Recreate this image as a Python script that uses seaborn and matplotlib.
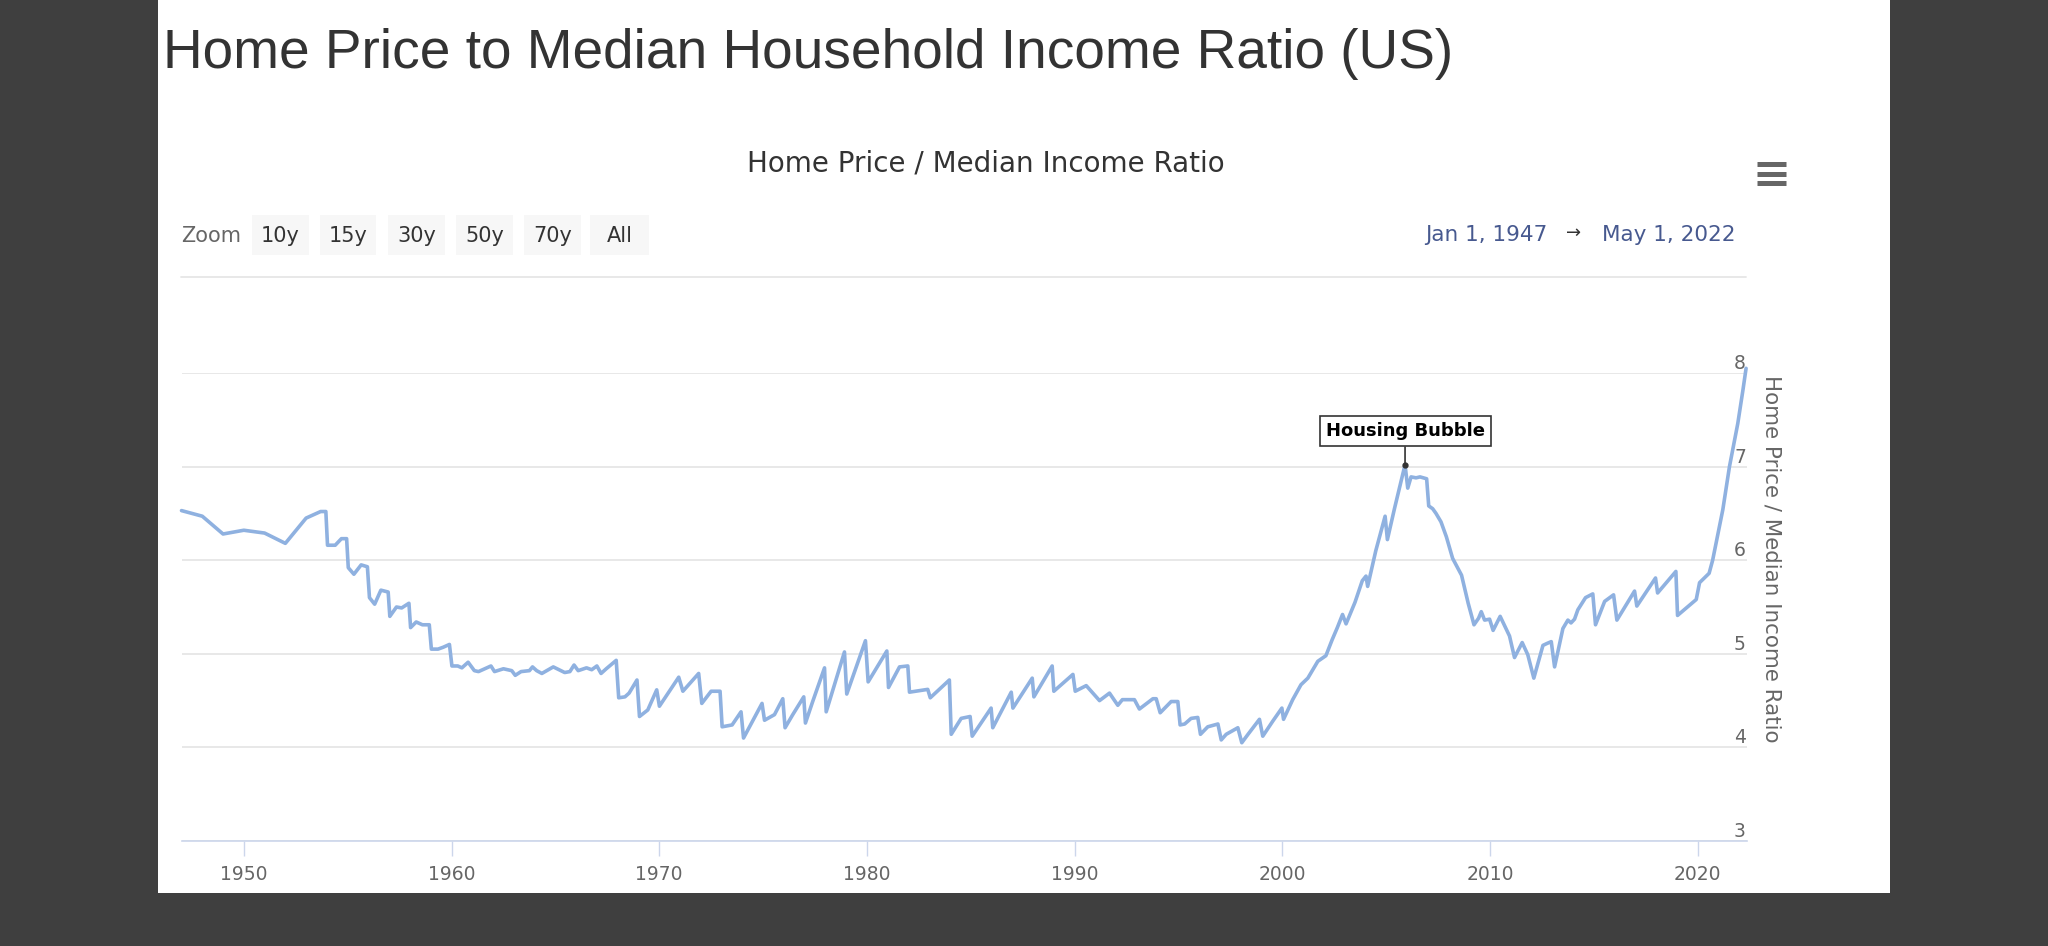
import matplotlib
matplotlib.use('Agg')
import matplotlib.pyplot as plt
from matplotlib.patches import Rectangle
import numpy as np
import pandas as pd
import seaborn as sns

# values
years = [1947.0, 1948.0, 1949.0, 1950.0, 1951.0, 1952.0, 1953.0, 1953.7, 1953.95, 1954.03,
         1954.4, 1954.7, 1954.95, 1955.03, 1955.3, 1955.65, 1955.95, 1956.05, 1956.3, 1956.6,
         1956.95, 1957.03, 1957.35, 1957.6, 1957.95, 1958.03, 1958.3, 1958.6, 1958.93, 1959.03,
         1959.35, 1959.6, 1959.9, 1960.02, 1960.3, 1960.5, 1960.8, 1961.1, 1961.3, 1961.6,
         1961.9, 1962.07, 1962.5, 1962.9, 1963.07, 1963.35, 1963.75, 1963.9, 1964.1, 1964.35,
         1964.9, 1965.45, 1965.7, 1965.9, 1966.1, 1966.5, 1966.75, 1967.0, 1967.2, 1967.45,
         1967.93, 1968.05, 1968.35, 1968.55, 1968.93, 1969.05, 1969.45, 1969.88, 1970.01, 1970.94,
         1971.14, 1971.9, 1972.05, 1972.5, 1972.93, 1973.03, 1973.51, 1973.94, 1974.06, 1974.95,
         1975.07, 1975.55, 1975.95, 1976.06, 1976.43, 1976.96, 1977.04, 1977.39, 1977.96, 1978.04,
         1978.92, 1979.03, 1979.93, 1980.06, 1980.96, 1981.04, 1981.57, 1981.97, 1982.05, 1982.93,
         1983.05, 1983.97, 1984.06, 1984.54, 1984.97, 1985.07, 1985.98, 1986.06, 1986.95, 1987.03,
         1987.96, 1988.04, 1988.92, 1989.0, 1989.92, 1990.03, 1990.56, 1991.2, 1991.68, 1992.08,
         1992.3, 1992.88, 1993.12, 1993.77, 1993.93, 1994.12, 1994.65, 1994.97, 1995.08, 1995.3,
         1995.61, 1995.93, 1996.06, 1996.41, 1996.9, 1997.06, 1997.3, 1997.86, 1998.05, 1998.35,
         1998.9, 1999.06, 1999.54, 1999.98, 2000.06, 2000.5, 2000.9, 2001.23, 2001.71, 2002.1,
         2002.4, 2002.65, 2002.9, 2003.07, 2003.5, 2003.85, 2004.03, 2004.11, 2004.5, 2004.95,
         2005.06, 2005.4, 2005.91, 2006.04, 2006.2, 2006.44, 2006.63, 2006.95, 2007.05, 2007.24,
         2007.4, 2007.64, 2007.9, 2008.2, 2008.63, 2008.95, 2009.23, 2009.45, 2009.58, 2009.74,
         2009.98, 2010.15, 2010.49, 2010.94, 2011.18, 2011.55, 2011.82, 2012.11, 2012.55, 2012.74,
         2012.95, 2013.11, 2013.51, 2013.75, 2013.9, 2014.07, 2014.23, 2014.6, 2014.95, 2015.08,
         2015.52, 2015.95, 2016.11, 2016.96, 2017.07, 2017.97, 2018.07, 2018.95, 2019.03, 2019.93,
         2020.09, 2020.55, 2020.72, 2021.21, 2021.53, 2021.93, 2022.18, 2022.33]
ratio = [6.53, 6.47, 6.28, 6.32, 6.29, 6.18, 6.45, 6.52, 6.52, 6.16,
         6.16, 6.23, 6.23, 5.92, 5.85, 5.95, 5.93, 5.60, 5.53, 5.68,
         5.66, 5.40, 5.50, 5.49, 5.54, 5.28, 5.34, 5.31, 5.31, 5.05,
         5.05, 5.07, 5.10, 4.87, 4.87, 4.85, 4.91, 4.82, 4.81, 4.84,
         4.87, 4.81, 4.84, 4.82, 4.77, 4.81, 4.82, 4.86, 4.82, 4.79,
         4.86, 4.80, 4.81, 4.88, 4.82, 4.85, 4.83, 4.87, 4.79, 4.84,
         4.93, 4.53, 4.54, 4.58, 4.72, 4.33, 4.40, 4.615, 4.44, 4.75,
         4.60, 4.79, 4.47, 4.60, 4.60, 4.22, 4.24, 4.38, 4.10, 4.47,
         4.29, 4.35, 4.52, 4.21, 4.35, 4.54, 4.26, 4.49, 4.85, 4.38,
         5.02, 4.57, 5.14, 4.70, 5.03, 4.64, 4.86, 4.87, 4.59, 4.62,
         4.53, 4.72, 4.14, 4.31, 4.33, 4.12, 4.42, 4.21, 4.59, 4.42,
         4.74, 4.54, 4.87, 4.60, 4.78, 4.60, 4.66, 4.50, 4.58, 4.45,
         4.51, 4.51, 4.41, 4.52, 4.52, 4.37, 4.49, 4.49, 4.24, 4.25,
         4.31, 4.32, 4.14, 4.22, 4.25, 4.08, 4.14, 4.21, 4.05, 4.14,
         4.30, 4.12, 4.28, 4.42, 4.30, 4.51, 4.67, 4.74, 4.92, 4.98,
         5.15, 5.28, 5.42, 5.32, 5.55, 5.78, 5.83, 5.72, 6.10, 6.47,
         6.22, 6.55, 7.02, 6.77, 6.89, 6.88, 6.89, 6.87, 6.58, 6.55,
         6.50, 6.41, 6.25, 6.02, 5.84, 5.54, 5.31, 5.38, 5.45, 5.36,
         5.37, 5.25, 5.40, 5.19, 4.96, 5.12, 4.99, 4.74, 5.09, 5.11,
         5.13, 4.86, 5.27, 5.36, 5.33, 5.37, 5.47, 5.60, 5.64, 5.31,
         5.56, 5.63, 5.36, 5.67, 5.51, 5.81, 5.65, 5.88, 5.41, 5.58,
         5.76, 5.86, 6.00, 6.54, 7.00, 7.46, 7.82, 8.05]
year_ticks = [1950, 1960, 1970, 1980, 1990, 2000, 2010, 2020]
ratio_ticks = [3, 4, 5, 6, 7, 8]
zoom_labels = ['10y', '15y', '30y', '50y', '70y', 'All']
bubble_label = 'Housing Bubble'

W, H = 2048, 946
LINE = '#8fb1e0'
GRID = '#e6e6e6'
AXIS = '#ccd6eb'
GREY = '#666666'
DARK = '#333333'
BLUE = '#47598f'

sns.set_style('white')
plt.rcParams['font.family'] = ['DejaVu Sans']

fig = plt.figure(figsize=(W / 100, H / 100), dpi=100, facecolor='#3f3f3f')

# page behind the chart, in pixel coordinates
page = fig.add_axes([0, 0, 1, 1])
page.set_xlim(0, W)
page.set_ylim(H, 0)
page.axis('off')
page.add_patch(Rectangle((158, 0), 1732, 893, fc='white', ec='none'))

page.text(163, 54, 'Home Price to Median Household Income Ratio (US)', family='Liberation Sans',
          fontsize=39.6, color=DARK, ha='left', va='center')
page.text(986, 164, 'Home Price / Median Income Ratio', fontsize=20, color=DARK,
          ha='center', va='center')

# range selector row
page.text(181, 236, 'Zoom', fontsize=15, color=GREY, ha='left', va='center')
btn_left = [252, 320, 388, 456, 524, 590]
btn_right = [309, 376, 445, 513, 581, 649]
for lab, x0, x1 in zip(zoom_labels, btn_left, btn_right):
    page.add_patch(Rectangle((x0, 215), x1 - x0, 40, fc='#f7f7f7', ec='none'))
    page.text((x0 + x1) / 2, 236, lab, fontsize=15, color=DARK, ha='center', va='center')

page.text(1425, 235, 'Jan 1, 1947', fontsize=15.5, color=BLUE, ha='left', va='center')
page.text(1574, 233, '→', fontsize=13, color=DARK, ha='center', va='center')
page.text(1736, 235, 'May 1, 2022', fontsize=15.5, color=BLUE, ha='right', va='center')
page.plot([181, 1746], [277, 277], color=GRID, lw=1.3)

# hamburger button
for y in [164, 174, 183]:
    page.plot([1757, 1786], [y, y], color=GREY, lw=3.6, solid_capstyle='butt')

# main chart
ax = fig.add_axes([181.5 / W, (H - 841) / H, 1565 / W, 468 / H])
ax.patch.set_alpha(0)
df = pd.DataFrame({'year': years, 'ratio': ratio})
sns.lineplot(data=df, x='year', y='ratio', estimator=None, sort=False, color=LINE,
             linewidth=2.6, clip_on=False, ax=ax, zorder=3)
ax.set_xlim(1947, 2022.35)
ax.set_ylim(3, 8)

ax.set_xticks(year_ticks)
ax.set_xticklabels([str(y) for y in year_ticks])
ax.set_yticks(ratio_ticks)
ax.set_yticklabels([str(v) for v in ratio_ticks], va='bottom')
ax.yaxis.tick_right()
ax.grid(axis='y', color=GRID, lw=1.3)
ax.grid(axis='x', visible=False)
ax.tick_params(axis='x', bottom=True, length=11, width=1, color=AXIS, labelcolor=GREY,
               labelsize=13.5, pad=6)
ax.tick_params(axis='y', length=0, labelcolor=GREY, labelsize=13.5, pad=-9)
for side in ['top', 'left', 'right']:
    ax.spines[side].set_visible(False)
ax.spines['bottom'].set_color(AXIS)
ax.spines['bottom'].set_linewidth(1.2)
ax.set_xlabel('')
ax.set_ylabel('')
page.text(1772, 559, 'Home Price / Median Income Ratio', fontsize=15.4, color=GREY,
          rotation=270, ha='center', va='center')

# flag on the peak
peak = int(np.argmax(ratio[:175]))
ax.plot(years[peak], ratio[peak], 'o', color=DARK, ms=3.5, zorder=4)
ax.annotate(bubble_label, xy=(years[peak], ratio[peak]), xytext=(0, 17.5), textcoords='offset points',
            ha='center', va='bottom', fontsize=13, fontweight='bold', color='black', zorder=5,
            bbox=dict(boxstyle='square,pad=0.33', fc='white', ec=DARK, lw=1.2),
            arrowprops=dict(arrowstyle='-', color=DARK, lw=1.2, shrinkA=0, shrinkB=0))

fig.savefig('out.png', dpi=100, facecolor=fig.get_facecolor())
